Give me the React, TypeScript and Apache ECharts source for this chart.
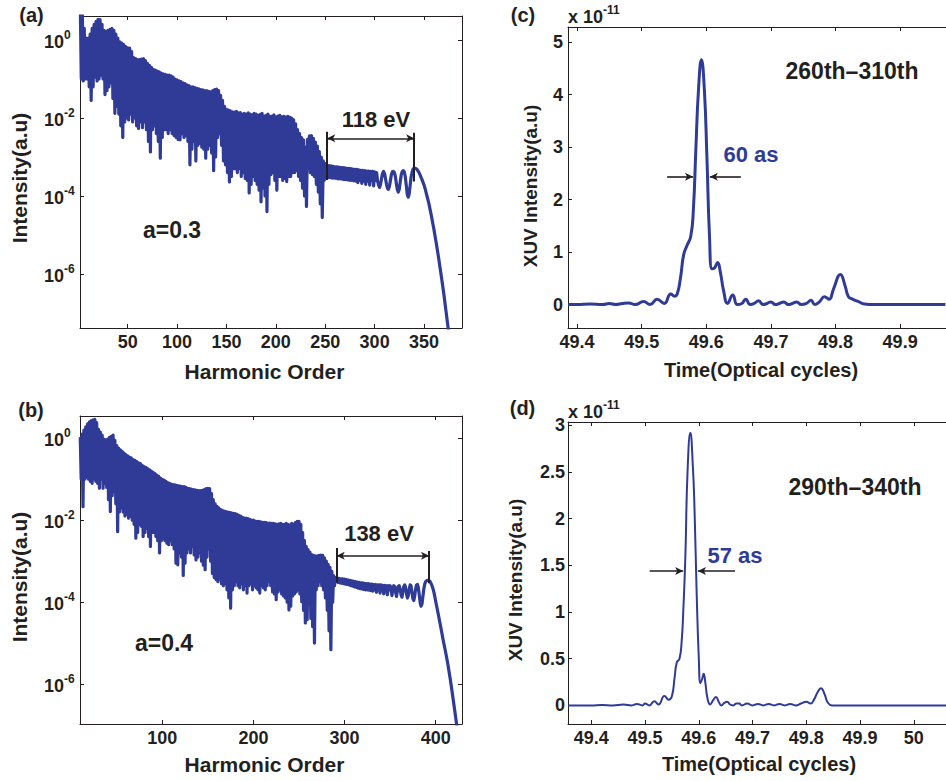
import React, { useEffect, useRef } from "react";
import * as echarts from "echarts";

const BLUE = "#2f3b97";
const INK = "#231f20";
const FONT = '"Liberation Sans", Arial, Helvetica, sans-serif';

// ---------- tick values ----------
const harmonicTicksA = [50, 100, 150, 200, 250, 300, 350];
const harmonicTicksB = [100, 200, 300, 400];
const logTicks = [-6, -4, -2, 0];
const timeTicksC = [49.4, 49.5, 49.6, 49.7, 49.8, 49.9];
const timeTicksD = [49.4, 49.5, 49.6, 49.7, 49.8, 49.9, 50.0];
const xuvTicksC = [0, 1, 2, 3, 4, 5];
const xuvTicksD = [0, 0.5, 1, 1.5, 2, 2.5, 3];

// ---------- panel (a): log10 intensity vs harmonic order (a = 0.3) ----------
// peaks at even orders 2,4,...,250
const firstTopA = 2;
const topA = [
  0.9, 0.8, 0.3, 0.05, 0.05, 0.15, 0.3, 0.4, 0.48, 0.53,
  0.52, 0.4, 0.25, 0.22, 0.25, 0.27, 0.3, 0.25, 0.15, 0.05,
  -0.05, -0.08, -0.12, -0.17, -0.2, -0.21, -0.3, -0.45, -0.48, -0.5,
  -0.5, -0.49, -0.48, -0.53, -0.6, -0.65, -0.7, -0.75, -0.77, -0.8,
  -0.82, -0.85, -0.87, -0.88, -0.9, -0.9, -0.92, -0.95, -1.0, -1.02,
  -1.05, -1.07, -1.1, -1.12, -1.15, -1.17, -1.2, -1.2, -1.22, -1.24,
  -1.25, -1.27, -1.28, -1.3, -1.3, -1.32, -1.33, -1.3, -1.27, -1.26,
  -1.3, -1.42, -1.55, -1.7, -1.78, -1.8, -1.82, -1.84, -1.85, -1.83,
  -1.87, -1.86, -1.9, -1.88, -1.9, -1.87, -1.9, -1.92, -1.88, -1.9,
  -1.93, -1.91, -1.88, -1.95, -1.93, -1.9, -1.96, -1.95, -1.92, -1.97,
  -1.95, -1.93, -1.97, -1.96, -1.98, -1.96, -1.98, -2.0, -2.05, -2.15,
  -2.3, -2.4, -2.5, -2.56, -2.75, -2.55, -2.46, -2.45, -2.52, -2.62,
  -2.72, -2.86, -3.0, -3.1, -3.17,
];
// dips at odd orders 3,5,...,249
const bottomA = [
  -1.0, -1.05, -1.0, -1.0, -1.2, -1.55, -1.2, -0.95, -1.05, -1.0,
  -0.9, -1.0, -1.4, -1.3, -1.2, -1.1, -1.5, -1.88, -1.7, -1.9,
  -2.2, -2.5, -2.1, -2.0, -2.05, -1.9, -2.1, -2.0, -2.2, -2.27,
  -2.1, -2.25, -2.1, -2.3, -2.6, -2.87, -2.3, -2.2, -2.4, -2.6,
  -3.03, -2.5, -2.3, -2.3, -2.4, -2.3, -2.4, -2.45, -2.5, -2.55,
  -2.56, -2.4, -2.5, -2.45, -2.6, -3.2, -2.8, -2.6, -3.1, -2.7,
  -2.65, -2.75, -2.8, -3.03, -2.8, -2.7, -2.9, -3.35, -3.0, -2.5,
  -2.4, -2.7, -3.1, -3.2, -3.4, -3.64, -3.5, -3.3, -3.3, -3.4,
  -3.3, -3.5, -3.4, -3.55, -3.6, -3.92, -3.7, -3.5, -3.6, -3.7,
  -3.85, -4.15, -3.8, -4.0, -4.4, -3.7, -3.45, -3.4, -3.6, -3.85,
  -3.5, -3.5, -3.6, -3.55, -3.63, -3.5, -3.5, -3.4, -3.4, -3.35,
  -3.5, -3.6, -3.8, -4.0, -4.27, -3.3, -3.4, -3.45, -3.5, -3.7,
  -3.9, -4.2, -4.55, -3.6,
];
// plateau and cut-off, orders 251..376
const firstTailA = 251;
const tailA = [
  -3.52, -3.22, -3.53, -3.22, -3.53, -3.23, -3.54, -3.24, -3.54, -3.25,
  -3.55, -3.25, -3.56, -3.26, -3.56, -3.27, -3.57, -3.27, -3.58, -3.28,
  -3.58, -3.29, -3.59, -3.29, -3.6, -3.3, -3.6, -3.31, -3.61, -3.32,
  -3.62, -3.32, -3.66, -3.33, -3.6, -3.34, -3.68, -3.34, -3.62, -3.35,
  -3.7, -3.36, -3.62, -3.36, -3.72, -3.37, -3.6, -3.37, -3.74, -3.38,
  -3.6, -3.4, -3.62, -3.72, -3.78, -3.7, -3.55, -3.42, -3.37, -3.42,
  -3.55, -3.7, -3.8, -3.83, -3.75, -3.6, -3.45, -3.38, -3.37, -3.4,
  -3.5, -3.68, -3.84, -3.9, -3.82, -3.62, -3.45, -3.37, -3.35, -3.38,
  -3.5, -3.72, -3.95, -4.03, -3.95, -3.72, -3.5, -3.38, -3.31, -3.29,
  -3.29, -3.3, -3.32, -3.36, -3.4, -3.46, -3.52, -3.58, -3.65, -3.72,
  -3.8, -3.9, -4.0, -4.1, -4.2, -4.33, -4.45, -4.58, -4.72, -4.85,
  -5.0, -5.15, -5.3, -5.46, -5.62, -5.8, -5.97, -6.14, -6.32, -6.5,
  -6.7, -6.9, -7.1, -7.3, -7.5, -7.7,
];

// ---------- panel (b): log10 intensity vs harmonic order (a = 0.4) ----------
const firstTopB = 10;
const topB = [
  0.0, 0.1, 0.2, 0.28, 0.35, 0.4, 0.43, 0.45, 0.46, 0.38,
  0.22, 0.15, 0.08, -0.02, -0.04, -0.02, 0.02, 0.05, 0.08, -0.05,
  -0.18, -0.24, -0.28, -0.32, -0.36, -0.4, -0.43, -0.46, -0.48, -0.52,
  -0.54, -0.57, -0.6, -0.62, -0.66, -0.69, -0.71, -0.74, -0.77, -0.8,
  -0.83, -0.86, -0.9, -0.93, -0.97, -1.0, -1.02, -1.05, -1.08, -1.1,
  -1.12, -1.13, -1.14, -1.15, -1.16, -1.17, -1.18, -1.18, -1.2, -1.22,
  -1.23, -1.24, -1.25, -1.26, -1.27, -1.28, -1.28, -1.27, -1.25, -1.23,
  -1.22, -1.23, -1.35, -1.5, -1.6, -1.66, -1.7, -1.74, -1.76, -1.78,
  -1.79, -1.8, -1.81, -1.82, -1.83, -1.84, -1.86, -1.88, -1.9, -1.93,
  -1.95, -1.95, -1.96, -1.98, -2.0, -2.0, -2.02, -2.03, -2.03, -2.04,
  -2.05, -2.05, -2.06, -2.07, -2.07, -2.08, -2.08, -2.09, -2.1, -2.09,
  -2.08, -2.1, -2.1, -2.08, -2.1, -2.12, -2.08, -2.1, -2.06, -2.03,
  -2.03, -2.1, -2.3, -2.5, -2.64, -2.72, -2.78, -2.84, -2.86, -2.87,
  -2.87, -2.86, -2.85, -2.86, -2.92, -3.0, -3.08, -3.15, -3.25, -3.35,
  -3.4,
];
const bottomB = [
  -1.0, -1.67, -1.0, -0.95, -1.0, -1.05, -1.1, -1.0, -1.05, -1.1,
  -1.22, -1.0, -1.22, -1.1, -1.2, -1.5, -1.79, -1.4, -1.3, -1.6,
  -2.28, -1.8, -1.7, -1.8, -1.9, -1.85, -1.95, -1.9, -2.0, -2.1,
  -2.44, -2.3, -2.1, -2.15, -2.4, -2.3, -2.2, -2.4, -2.64, -2.3,
  -2.3, -2.4, -2.5, -2.8, -2.5, -2.45, -2.5, -2.56, -2.6, -2.5,
  -2.6, -2.7, -3.05, -3.09, -2.8, -2.9, -3.35, -3.05, -2.8, -2.7,
  -2.8, -2.64, -2.85, -2.97, -2.9, -2.8, -3.0, -3.1, -3.21, -2.9,
  -2.7, -3.0, -3.3, -3.4, -3.45, -3.5, -3.45, -3.55, -3.6, -3.55,
  -3.7, -3.9, -4.15, -3.7, -3.6, -3.5, -3.6, -3.65, -3.55, -3.7,
  -3.6, -3.78, -3.6, -3.55, -3.7, -3.6, -3.65, -3.7, -3.78, -3.6,
  -3.65, -3.7, -3.6, -3.5, -3.6, -3.75, -3.8, -3.94, -3.75, -3.7,
  -3.8, -3.85, -3.9, -4.0, -4.19, -4.1, -3.85, -3.8, -3.75, -3.7,
  -3.8, -3.99, -4.2, -4.51, -4.43, -4.0, -4.4, -4.6, -5.0, -3.7,
  -3.6, -3.5, -3.6, -3.7, -3.9, -4.2, -4.7, -5.16, -4.0, -3.6,
];
const firstTailB = 291;
const tailB = [
  -3.5, -3.41, -3.52, -3.42, -3.53, -3.43, -3.54, -3.43, -3.55, -3.44,
  -3.56, -3.45, -3.57, -3.46, -3.58, -3.47, -3.6, -3.48, -3.61, -3.49,
  -3.63, -3.5, -3.64, -3.51, -3.66, -3.52, -3.67, -3.53, -3.68, -3.53,
  -3.69, -3.54, -3.7, -3.55, -3.7, -3.55, -3.71, -3.56, -3.72, -3.56,
  -3.73, -3.57, -3.7, -3.57, -3.76, -3.58, -3.7, -3.58, -3.78, -3.58,
  -3.7, -3.59, -3.8, -3.59, -3.72, -3.6, -3.82, -3.6, -3.7, -3.6,
  -3.65, -3.84, -3.7, -3.6, -3.62, -3.75, -3.86, -3.72, -3.61, -3.6,
  -3.68, -3.82, -3.88, -3.75, -3.62, -3.58, -3.64, -3.8, -3.9, -3.84,
  -3.68, -3.58, -3.6, -3.76, -3.92, -3.96, -3.85, -3.68, -3.58, -3.57,
  -3.65, -3.82, -4.02, -4.1, -4.05, -3.86, -3.68, -3.56, -3.5, -3.48,
  -3.47, -3.47, -3.48, -3.5, -3.55, -3.6, -3.67, -3.75, -3.86, -3.98,
  -4.09, -4.2, -4.31, -4.43, -4.54, -4.66, -4.78, -4.9, -5.01, -5.12,
  -5.23, -5.35, -5.47, -5.6, -5.74, -5.88, -6.03, -6.18, -6.34, -6.5,
  -6.66, -6.82, -6.98, -7.15, -7.32, -7.5,
];

// ---------- panel (c): XUV pulse, 260th-310th (units of 1e-11) ----------
const timeC = [
  49.386, 49.4, 49.42, 49.44, 49.45, 49.46, 49.47, 49.48, 49.49, 49.503,
  49.513, 49.524, 49.535, 49.545, 49.551, 49.555, 49.56, 49.565, 49.57, 49.576,
  49.58, 49.584, 49.588, 49.5925, 49.597, 49.601, 49.605, 49.609, 49.613, 49.6175,
  49.622, 49.627, 49.633, 49.641, 49.648, 49.655, 49.661, 49.668, 49.674, 49.681,
  49.688, 49.694, 49.7, 49.707, 49.713, 49.72, 49.727, 49.733, 49.74, 49.747,
  49.755, 49.762, 49.768, 49.775, 49.783, 49.79, 49.797, 49.8075, 49.815, 49.82,
  49.827, 49.835, 49.845, 49.86, 49.9, 49.97,
];
const xuvC = [
  0, 0, 0.01, 0, 0.02, 0, 0.02, 0.03, 0, 0.06,
  0, 0.1, 0.02, 0.2, 0.16, 0.2, 0.5, 0.95, 1.12, 1.3,
  1.8, 3.0, 4.1, 4.66, 4.1, 2.8, 1.3, 0.68, 0.7, 0.8,
  0.6, 0.25, 0.02, 0.18, 0, 0.02, 0.1, 0, 0.02, 0.07,
  0, 0.02, 0.05, 0, 0.02, 0.05, 0, 0.02, 0.05, 0,
  0.02, 0.08, 0, 0.05, 0.15, 0.1, 0.3, 0.57, 0.35, 0.15,
  0.1, 0.06, 0.01, 0, 0, 0,
];

// ---------- panel (d): XUV pulse, 290th-340th (units of 1e-11) ----------
const timeD = [
  49.357, 49.4, 49.42, 49.44, 49.46, 49.475, 49.485, 49.495, 49.5, 49.508,
  49.517, 49.525, 49.536, 49.544, 49.55, 49.555, 49.559, 49.564, 49.568, 49.571,
  49.575, 49.579, 49.5843, 49.589, 49.592, 49.596, 49.6, 49.603, 49.606, 49.609,
  49.612, 49.616, 49.621, 49.627, 49.632, 49.637, 49.642, 49.648, 49.653, 49.658,
  49.664, 49.67, 49.675, 49.68, 49.69, 49.7, 49.71, 49.72, 49.73, 49.74,
  49.75, 49.76, 49.77, 49.78, 49.79, 49.8, 49.808, 49.815, 49.82, 49.8273,
  49.834, 49.84, 49.848, 49.9, 50.06,
];
const xuvD = [
  0, 0, 0.005, 0, 0.01, 0, 0.015, 0, 0.02, 0,
  0.045, 0.01, 0.1, 0.06, 0.1, 0.3, 0.46, 0.5, 0.68, 1.0,
  1.6, 2.5, 2.92, 2.55, 2.1, 1.2, 0.5, 0.24, 0.28, 0.34,
  0.25, 0.08, 0.01, 0.06, 0.09, 0.04, 0, 0.03, 0.04, 0.01,
  0, 0.02, 0.02, 0, 0.02, 0, 0.015, 0, 0.015, 0,
  0.015, 0, 0.015, 0, 0.02, 0.04, 0.02, 0.07, 0.13, 0.185,
  0.12, 0.03, 0, 0, 0,
];

// ---------- annotation coordinates (data units) ----------
const bracketA = { left: 252, right: 340, arrowY: -2.52, leftTop: -2.35, leftBot: -3.59, rightTop: -2.38, rightBot: -3.63 };
const bracketB = { left: 291.4, right: 392.7, arrowY: -2.87, leftTop: -2.68, leftBot: -3.52, rightTop: -2.75, rightBot: -3.54 };
const fwhmC = { y: 2.435, l0: 49.5394, l1: 49.5795, r0: 49.6535, r1: 49.6055 };
const fwhmD = { y: 1.44, l0: 49.5086, l1: 49.5709, r0: 49.6674, r1: 49.5984 };

function buildSpectrum(first: number, top: number[], bottom: number[], firstTail: number, tail: number[]) {
  const out: number[][] = [];
  for (let i = 0; i < top.length; i++) {
    out.push([first + 2 * i, top[i]]);
    if (i < bottom.length) out.push([first + 1 + 2 * i, bottom[i]]);
  }
  tail.forEach((v, i) => out.push([firstTail + i, v]));
  return out;
}
function zip(xs: number[], ys: number[]) {
  return xs.map((x, i) => [x, ys[i]]);
}

const axisLine = { color: INK, width: 1 };
const tickFont = { color: INK, fontSize: 18, fontWeight: "bold", fontFamily: FONT };
const fmtNum = (v: number) => String(parseFloat(v.toFixed(2)));

function bottomX(gridIndex: number, min: number, max: number, ticks: number[]) {
  return {
    type: "value", gridIndex, min, max, position: "bottom",
    axisLine: { show: true, onZero: false, lineStyle: axisLine },
    axisTick: { show: true, inside: true, length: 4, customValues: ticks, lineStyle: axisLine },
    axisLabel: { show: true, customValues: ticks, margin: 5, formatter: fmtNum, ...tickFont },
    splitLine: { show: false },
  };
}
function topX(gridIndex: number, min: number, max: number, ticks: number[]) {
  return {
    type: "value", gridIndex, min, max, position: "top",
    axisLine: { show: true, onZero: false, lineStyle: axisLine },
    axisTick: { show: true, inside: true, length: 4, customValues: ticks, lineStyle: axisLine },
    axisLabel: { show: false },
    splitLine: { show: false },
  };
}
function logY(gridIndex: number, min: number, max: number) {
  return {
    type: "value", gridIndex, min, max, position: "left",
    axisLine: { show: true, onZero: false, lineStyle: axisLine },
    axisTick: { show: true, inside: true, length: 4, customValues: logTicks, lineStyle: axisLine },
    axisLabel: {
      show: true, customValues: logTicks, align: "left", margin: 36,
      formatter: (v: number) => `{b|10}{e|${Math.round(v)}}`,
      rich: {
        b: { fontSize: 18, fontWeight: "bold", fontFamily: FONT, color: INK, lineHeight: 22, verticalAlign: "bottom" },
        e: { fontSize: 12, fontWeight: "bold", fontFamily: FONT, color: INK, lineHeight: 12, verticalAlign: "top" },
      },
    },
    splitLine: { show: false },
  };
}
function rightY(gridIndex: number, min: number, max: number, ticks: number[]) {
  return {
    type: "value", gridIndex, min, max, position: "right",
    axisLine: { show: true, onZero: false, lineStyle: axisLine },
    axisTick: { show: true, inside: true, length: 4, customValues: ticks, lineStyle: axisLine },
    axisLabel: { show: false },
    splitLine: { show: false },
  };
}
function linY(gridIndex: number, min: number, max: number, ticks: number[], margin: number) {
  return {
    type: "value", gridIndex, min, max, position: "left",
    axisLine: { show: true, onZero: false, lineStyle: axisLine },
    axisTick: { show: true, inside: true, length: 4, customValues: ticks, lineStyle: axisLine },
    axisLabel: { show: true, customValues: ticks, margin, formatter: fmtNum, ...tickFont },
    splitLine: { show: false },
  };
}

const arrowHead = { symbol: "arrow", symbolSize: [6, 8] };
function bracketLines(b: typeof bracketA) {
  return [
    [{ coord: [b.left, b.leftTop] }, { coord: [b.left, b.leftBot] }],
    [{ coord: [b.right, b.rightTop] }, { coord: [b.right, b.rightBot] }],
    [
      { coord: [b.left, b.arrowY], ...arrowHead, lineStyle: { width: 1.5, color: INK } },
      { coord: [b.right, b.arrowY], ...arrowHead },
    ],
  ];
}
function fwhmLines(f: typeof fwhmC) {
  return [
    [{ coord: [f.l0, f.y], symbol: "none" }, { coord: [f.l1, f.y], ...arrowHead }],
    [{ coord: [f.r0, f.y], symbol: "none" }, { coord: [f.r1, f.y], ...arrowHead }],
  ];
}
function markLines(data: any[], width: number) {
  return {
    silent: true,
    animation: false,
    symbol: ["none", "none"],
    label: { show: false },
    emphasis: { disabled: true },
    lineStyle: { color: INK, width, type: "solid" },
    data,
  };
}

function txt(text: string, x: number, y: number, size: number, color = INK, rotation = 0) {
  return {
    type: "text", x, y, rotation, silent: true,
    style: {
      text, fontSize: size, fontWeight: "bold", fontFamily: FONT, fill: color,
      align: "center", verticalAlign: "middle", textAlign: "center", textVerticalAlign: "middle",
    },
  };
}
function scaleNote(x: number, y: number) {
  return {
    type: "text", x, y, silent: true,
    style: {
      text: "{a|x 10}{b|-11}",
      align: "left", verticalAlign: "middle", textAlign: "left", textVerticalAlign: "middle",
      rich: {
        a: { fontSize: 18, fontWeight: "bold", fontFamily: FONT, fill: INK, color: INK, lineHeight: 22, verticalAlign: "bottom" },
        b: { fontSize: 12, fontWeight: "bold", fontFamily: FONT, fill: INK, color: INK, lineHeight: 12, verticalAlign: "top" },
      },
    },
  };
}

export default function App() {
  const ref = useRef<HTMLDivElement>(null);
  useEffect(() => {
    if (!ref.current) return;
    const chart = echarts.init(ref.current, undefined, { renderer: "svg" });
    const xA = [1.7, 388.46];
    const xB = [9.7, 428.9];
    const xC = [49.386, 49.971];
    const xD = [49.3566, 50.0599];
    const yA = [-7.385, 0.615];
    const yB = [-6.976, 0.544];
    const yC = [-0.447, 5.286];
    const yD = [-0.199, 3.035];
    const option: any = {
      animation: false,
      grid: [
        { left: 80, top: 16, width: 382, height: 312 },
        { left: 80, top: 416, width: 382, height: 308 },
        { left: 568, top: 27, width: 389, height: 301 },
        { left: 568, top: 422, width: 384, height: 302 },
      ],
      xAxis: [
        bottomX(0, xA[0], xA[1], harmonicTicksA),
        topX(0, xA[0], xA[1], harmonicTicksA),
        bottomX(1, xB[0], xB[1], harmonicTicksB),
        topX(1, xB[0], xB[1], harmonicTicksB),
        bottomX(2, xC[0], xC[1], timeTicksC),
        topX(2, xC[0], xC[1], timeTicksC),
        bottomX(3, xD[0], xD[1], timeTicksD),
        topX(3, xD[0], xD[1], timeTicksD),
      ],
      yAxis: [
        logY(0, yA[0], yA[1]),
        rightY(0, yA[0], yA[1], logTicks),
        logY(1, yB[0], yB[1]),
        rightY(1, yB[0], yB[1], logTicks),
        linY(2, yC[0], yC[1], xuvTicksC, 5),
        linY(3, yD[0], yD[1], xuvTicksD, 3),
      ],
      series: [
        {
          type: "line", xAxisIndex: 0, yAxisIndex: 0, symbol: "none", showSymbol: false, clip: true,
          lineStyle: { color: BLUE, width: 3.2, join: "round", cap: "round" },
          data: buildSpectrum(firstTopA, topA, bottomA, firstTailA, tailA),
          markLine: markLines(bracketLines(bracketA), 2),
        },
        {
          type: "line", xAxisIndex: 2, yAxisIndex: 2, symbol: "none", showSymbol: false, clip: true,
          lineStyle: { color: BLUE, width: 3.2, join: "round", cap: "round" },
          data: buildSpectrum(firstTopB, topB, bottomB, firstTailB, tailB),
          markLine: markLines(bracketLines(bracketB), 2),
        },
        {
          type: "line", xAxisIndex: 4, yAxisIndex: 4, symbol: "none", showSymbol: false, clip: true,
          smooth: 0.5,
          lineStyle: { color: BLUE, width: 3, join: "round" },
          data: zip(timeC, xuvC),
          markLine: markLines(fwhmLines(fwhmC), 1.6),
        },
        {
          type: "line", xAxisIndex: 6, yAxisIndex: 5, symbol: "none", showSymbol: false, clip: true,
          smooth: 0.5,
          lineStyle: { color: BLUE, width: 2, join: "round" },
          data: zip(timeD, xuvD),
          markLine: markLines(fwhmLines(fwhmD), 1.6),
        },
      ],
      graphic: [
        txt("(a)", 31.5, 15, 20),
        txt("(b)", 31, 410, 20),
        txt("(c)", 523, 15, 20),
        txt("(d)", 522.5, 408, 20),
        txt("Intensity(a.u)", 19, 178, 21, INK, Math.PI / 2),
        txt("Intensity(a.u)", 19, 577, 21, INK, Math.PI / 2),
        txt("Harmonic Order", 264.5, 371, 21),
        txt("Harmonic Order", 264.5, 764, 21),
        txt("XUV Intensity(a.u)", 530, 186, 19, INK, Math.PI / 2),
        txt("XUV Intensity(a.u)", 515, 580, 19, INK, Math.PI / 2),
        txt("Time(Optical cycles)", 761, 370, 20),
        txt("Time(Optical cycles)", 759, 764, 20),
        txt("118 eV", 376, 119, 22),
        txt("a=0.3", 172, 230, 23),
        txt("138 eV", 379, 533, 22),
        txt("a=0.4", 164, 643, 23),
        txt("260th\u2013310th", 852, 71, 23),
        txt("290th\u2013340th", 855, 487, 23),
        txt("60 as", 751, 154, 22, BLUE),
        txt("57 as", 735, 555, 22, BLUE),
        scaleNote(568, 15),
        scaleNote(568, 410),
      ],
    };
    chart.setOption(option);
    return () => chart.dispose();
  }, []);
  return <div ref={ref} style={{ position: "absolute", left: 0, top: 0, width: 946, height: 781 }} />;
}
